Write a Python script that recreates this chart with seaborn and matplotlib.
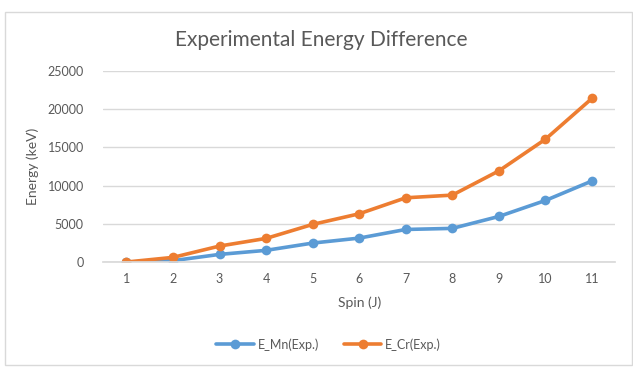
import matplotlib
matplotlib.use("Agg")
import matplotlib.pyplot as plt
import seaborn as sns
import pandas as pd
from matplotlib.patches import Rectangle

spin = [1, 2, 3, 4, 5, 6, 7, 8, 9, 10, 11]
e_mn = [0, 180, 1000, 1530, 2480, 3130, 4260, 4400, 5960, 8050, 10600]
e_cr = [0, 610, 2090, 3090, 4920, 6310, 8400, 8750, 11920, 16060, 21400]
series_names = ["E_Mn(Exp.)", "E_Cr(Exp.)"]
colors = ["#5B9BD5", "#ED7D31"]

df = pd.DataFrame({
    "Spin": [str(s) for s in spin] * 2,
    "Energy": e_mn + e_cr,
    "Series": [series_names[0]] * len(spin) + [series_names[1]] * len(spin),
})

sns.set_theme(style="white")
plt.rcParams["font.family"] = ["Lato", "DejaVu Sans"]
txt = "#595959"

fig = plt.figure(figsize=(6.33, 3.67), dpi=100)
ax = fig.add_axes([0.163, 0.286, 0.809, 0.521])

sns.lineplot(data=df, x="Spin", y="Energy", hue="Series", palette=colors,
             marker="o", markersize=7, linewidth=2.6, markeredgewidth=0,
             sort=False, ax=ax)

ax.set_xlim(-0.5, len(spin) - 0.5)
ax.set_ylim(0, 25000)
ax.set_yticks([0, 5000, 10000, 15000, 20000, 25000])
ax.yaxis.grid(True, color="#D9D9D9", linewidth=1)
ax.set_axisbelow(True)
for s in ["top", "right", "left"]:
    ax.spines[s].set_visible(False)
ax.spines["bottom"].set_color("#D9D9D9")
ax.tick_params(axis="both", colors=txt, labelsize=9, length=0, pad=8)
ax.tick_params(axis="y", pad=14)
ax.set_xlabel("Spin (J)", color=txt, fontsize=10, labelpad=8)
ax.set_ylabel("Energy (keV)", color=txt, fontsize=10, labelpad=6)
fig.text(0.507, 0.89, "Experimental Energy Difference", ha="center", va="center",
         color=txt, fontsize=15)

ax.legend(title=None, loc="upper center", bbox_to_anchor=(0.44, -0.34), ncol=2,
          frameon=False, fontsize=9, labelcolor=txt, handlelength=3,
          columnspacing=2, handletextpad=0.3)

fig.patches.append(Rectangle((0.008, 0.005), 0.990, 0.963, transform=fig.transFigure,
                             fill=False, edgecolor="#D9D9D9", linewidth=1))

fig.savefig("out.png", dpi=100)
